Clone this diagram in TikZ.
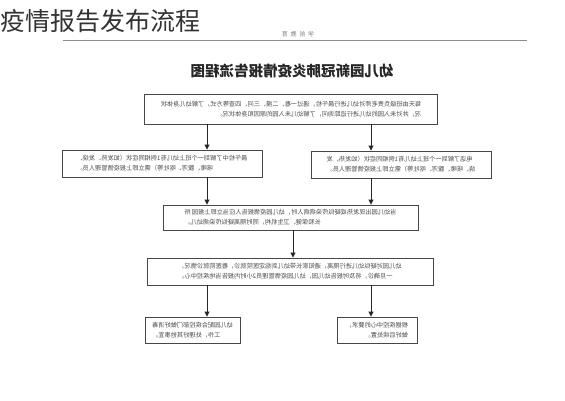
\documentclass[tikz,border=0pt]{standalone}
\usepackage{fontspec}
\newfontfamily\cjk{Noto Sans CJK SC}
\usetikzlibrary{arrows.meta}
\tikzset{
  box/.style={draw=black!72, line width=0.9pt, fill=white, inner sep=2pt, xscale=-1,
    font=\cjk\fontsize{6.2}{10}\selectfont, text=black!70},
  arr/.style={-{Triangle[length=5pt,width=5pt]}, line width=0.9pt, draw=black!85},
}
\begin{document}
\begin{tikzpicture}[x=1pt,y=-1pt]
\useasboundingbox[fill=white] (0,0) rectangle (565,400);
% page title
\node[anchor=west, inner sep=0, font=\cjk\fontsize{25}{25}\selectfont, text=black!80] (title) at (0,21) {疫情报告发布流程};
% header
\node[xscale=-1, inner sep=0, font=\cjk\fontsize{6}{6}\selectfont, text=black!50] (hdr) at (298,34) {学\ \ 前\ \ 教\ \ 育};
\coordinate (la) at (63,40);
\coordinate (lb) at (527,40);
\draw[black!45, line width=0.8pt] (la) -- (lb);
% diagram title
\node[xscale=-1, inner sep=0, font=\cjk\bfseries\fontsize{14.5}{15}\selectfont, text=black!85] (dt) at (292,71) {幼儿园新冠肺炎疫情报告流程图};
% boxes
\node[box, minimum width=293pt, minimum height=30pt, align=left] (b1) at (291,109)
  {每天由班级负责老师对幼儿进行晨午检，通过一看、二摸、三问、四查等方式，了解幼儿身体状\\况，并对未入园的幼儿进行追踪询问，了解幼儿未入园的原因和身体状况。};
\node[box, minimum width=200pt, minimum height=27pt, align=right] (b2) at (162,163.5)
  {晨午检中了解到一个班上幼儿有1例相同症状（如发热、发烧、\\咳嗽、腹泻、呕吐等）需立即上报疫情管理人员。};
\node[box, minimum width=180pt, minimum height=27pt, align=right] (b3) at (401,164.5)
  {电话了解到一个班上幼儿有1例相同症状（如发热、发\\烧、咳嗽、腹泻、呕吐等）需立即上报疫情管理人员。};
\node[box, minimum width=255pt, minimum height=25pt, align=right] (b4) at (290.5,217.5)
  {当幼儿园出现发热或疑似传染病病人时，幼儿园疫情报告人应当立即上报园\ 所\\长和保健、卫生机构，同时隔离疑似传染病幼儿。};
\node[box, minimum width=286pt, minimum height=27pt, align=right] (b5) at (290,271.5)
  {幼儿园对疑似幼儿进行隔离，通知家长带幼儿到指定医院就诊，看医院就诊情况，\\一旦确诊，将及时报告幼儿园，幼儿园疫情管理员2小时内报告当地疾控中心。};
\node[box, minimum width=95pt, minimum height=26pt, align=right] (b6) at (192.5,330)
  {幼儿园配合疾控部门做好消毒\\工作，处理好其他事宜。};
\node[box, minimum width=80pt, minimum height=26pt, align=left] (b7) at (377,330)
  {根据疾控中心的要求，\\做好后续处置。};
% connectors
\coordinate (xl) at (207,0);
\coordinate (xr) at (371,0);
\coordinate (xm) at (293,0);
\draw[arr] (xl |- b1.south) -- (xl |- b2.north);
\draw[arr] (xr |- b1.south) -- (xr |- b3.north);
\draw[arr] (xl |- b2.south) -- (xl |- b4.north);
\draw[arr] (xr |- b3.south) -- (xr |- b4.north);
\draw[arr] (xm |- b4.south) -- (xm |- b5.north);
\draw[arr] (xl |- b5.south) -- (xl |- b6.north);
\draw[arr] (xr |- b5.south) -- (xr |- b7.north);
\end{tikzpicture}
\end{document}
